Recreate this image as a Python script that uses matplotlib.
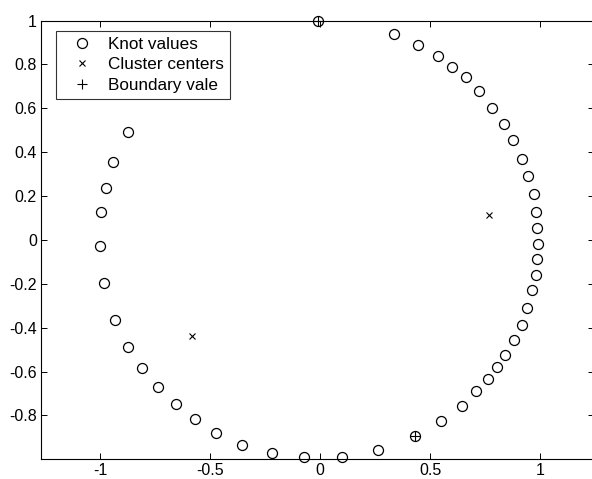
import numpy as np
import matplotlib
matplotlib.use("Agg")
import matplotlib.pyplot as plt

plt.rcParams['font.family'] = ['Liberation Sans', 'DejaVu Sans']

# knot values around the (roughly) unit circle
knot_x = [-0.01, 0.336, 0.447, 0.538, 0.600, 0.662, 0.723, 0.783, 0.836, 0.879,
          0.917, 0.947, 0.973, 0.983, 0.988, 0.991, 0.986, 0.983, 0.965, 0.940,
          0.917, 0.882, 0.841, 0.806, 0.764, 0.710, 0.644, 0.548, 0.432, 0.265,
          0.099, -0.073, -0.217, -0.353, -0.474, -0.570, -0.656, -0.735, -0.808,
          -0.871, -0.932, -0.982, -1.000, -0.997, -0.974, -0.940, -0.873]
knot_y = [1.000, 0.940, 0.890, 0.836, 0.790, 0.742, 0.680, 0.603, 0.526, 0.455,
          0.371, 0.290, 0.208, 0.129, 0.056, -0.018, -0.088, -0.159, -0.230, -0.310,
          -0.386, -0.458, -0.523, -0.580, -0.636, -0.689, -0.755, -0.826, -0.894, -0.958,
          -0.990, -0.990, -0.970, -0.935, -0.879, -0.814, -0.747, -0.671, -0.583,
          -0.488, -0.364, -0.197, -0.027, 0.126, 0.235, 0.353, 0.490]

center_x = [0.768, -0.580]
center_y = [0.114, -0.440]

bound_x = [-0.01, 0.432]
bound_y = [1.000, -0.894]

xticks = [-1, -0.5, 0, 0.5, 1]
yticks = [-0.8, -0.6, -0.4, -0.2, 0, 0.2, 0.4, 0.6, 0.8, 1]

fig = plt.figure(figsize=(5.92, 4.79), dpi=100)
ax = fig.add_axes([0.0693, 0.0411, 0.934, 0.9161])

ax.plot(knot_x, knot_y, 'o', mfc='none', mec='black', ms=7.2, mew=0.9,
        label='Knot values', clip_on=False, zorder=3)
ax.plot(center_x, center_y, 'x', color='black', ms=4, mew=0.8,
        label='Cluster centers', clip_on=False, zorder=4)
ax.plot(bound_x, bound_y, '+', color='black', ms=7, mew=0.8,
        label='Boundary vale', clip_on=False, zorder=4)

ax.set_xlim(-1.268, 1.245)
ax.set_ylim(-1.0, 1.0)
ax.set_xticks(xticks)
ax.set_xticklabels(['-1', '-0.5', '0', '0.5', '1'])
ax.set_yticks(yticks)
ax.set_yticklabels(['-0.8', '-0.6', '-0.4', '-0.2', '0', '0.2', '0.4', '0.6', '0.8', '1'])
ax.tick_params(direction='in', length=4, width=0.7, top=True, right=True,
               labelsize=11.5, pad=3, colors='black')
for s in ax.spines.values():
    s.set_linewidth(0.8)
    s.set_color('black')

leg = ax.legend(loc='upper left', bbox_to_anchor=(0.027, 0.977), borderaxespad=0,
                fontsize=12.3, frameon=True, fancybox=False, edgecolor='black',
                handlelength=2.4, handletextpad=0.3, labelspacing=0.33,
                borderpad=0.35)
leg.get_frame().set_linewidth(0.8)

fig.savefig('out.png', dpi=100)
